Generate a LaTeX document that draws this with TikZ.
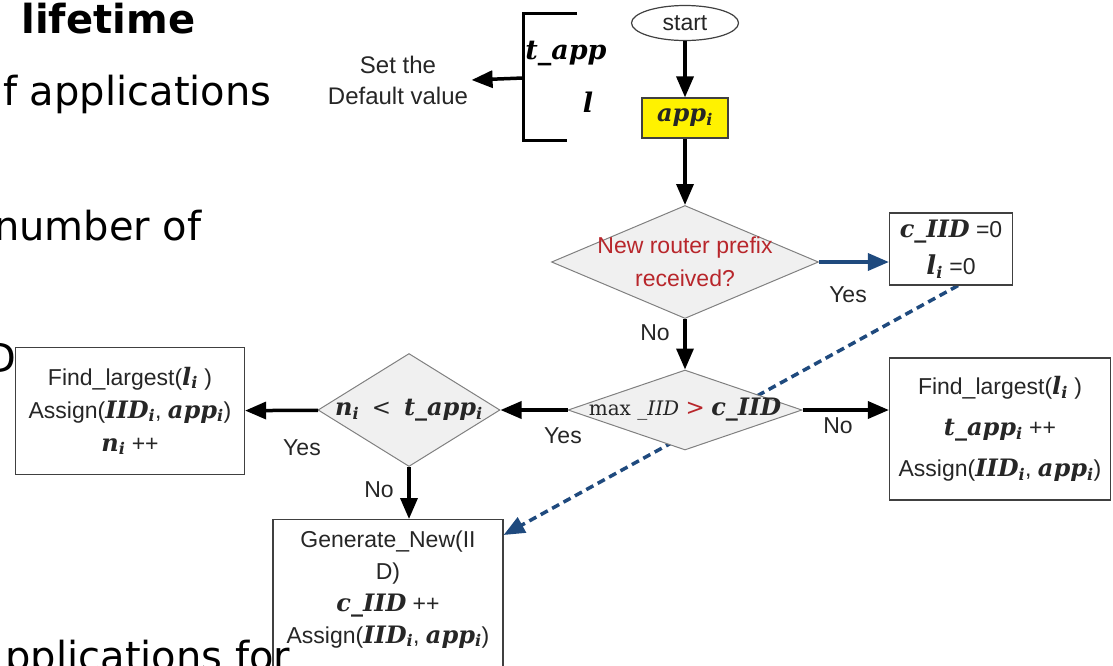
\documentclass[tikz,border=0pt]{standalone}
\usepackage{fontspec}
\setmainfont{Liberation Sans}
\newfontfamily\slidefont{DejaVu Sans}
\newfontfamily\varfont{DejaVu Serif}
\usetikzlibrary{shapes.geometric,arrows.meta,backgrounds}
\definecolor{askred}{HTML}{B8262B}
\definecolor{linkblue}{HTML}{1F4A7E}
\definecolor{decgray}{HTML}{F0F0F0}
\newcommand*{\bivar}[2][24]{{\varfont\bfseries\itshape\fontsize{#1}{30}\selectfont #2}}
\newcommand*{\isub}{\textsubscript{\varfont\bfseries\itshape i}}
\newcommand*{\flowfont}{\fontsize{23}{33}\selectfont}
\newcommand*{\slidetext}{\slidefont\fontsize{40}{48}\selectfont}
\tikzset{
  flowbox/.style = {draw = black!75, line width = 1.2pt, fill = white,
    align = center, inner sep = 0pt, font = \flowfont, text = black!85},
  decision/.style = {diamond, draw = black!50, line width = 1pt,
    fill = decgray, inner sep = 0pt},
  flowarrow/.style = {line width = 3.5pt, -{Triangle[length = 21pt, width = 17pt]}},
  yesno/.style = {font = \flowfont, text = black!85},
}

\begin{document}
\begin{tikzpicture}[x = 1pt, y = -1pt]
  \useasboundingbox (0,0) rectangle (1113,665);
  \clip (0,0) rectangle (1113,665);
  % slide text behind the chart
  \node[anchor = base west, font = \slidetext\bfseries] (ttl) at (18,33) {lifetime};
  \node[anchor = base east, font = \slidetext] (ln1) at (275,105) {f applications};
  \node[anchor = base east, font = \slidetext] (ln2) at (205,240) {number of};
  \node[anchor = base east, font = \slidetext] (ln3) at (20,372) {D};
  % default values
  \draw[line width = 3pt] (577,13) -| (523,140) -- (567,140);
  \coordinate (brk) at (523,78);
  \node[yesno, font = \fontsize{24}{31}\selectfont, align = center] (dflt) at (398,80)
    {Set the\\Default value};
  \node (tapp) at (566,53) {\bivar[27]{t\_app}};
  \node (lval) at (588,102) {\bivar[27]{l}};
  \draw[flowarrow] (brk) -- (dflt.east);
  % chart
  \node[ellipse, draw = black!75, line width = 1.2pt, minimum width = 107,
    minimum height = 35, inner sep = 0pt, yesno] (start) at (685,23) {start};
  \node[flowbox, fill = yellow, minimum width = 86, minimum height = 40]
    (app) at (685,118) {\bivar{app}\isub};
  \node[decision, minimum width = 267, minimum height = 113,
    label = {[yesno, align = center, text = askred]center:New router prefix\\received?}]
    (prefix) at (685,262) {};
  \node[flowbox, minimum width = 123, minimum height = 72] (cinit) at (951,249)
    {\bivar{c\_IID} =0\\[4pt] \bivar[26]{l}\isub{} =0};
  \node[decision, minimum width = 234, minimum height = 80,
    label = {[yesno]center:{\varfont\fontsize{20}{24}\selectfont max}
      {\varfont\itshape\fontsize{20}{24}\selectfont\_IID}
      {\varfont\color{askred}>} \bivar{c\_IID}}]
    (maxiid) at (685,410) {};
  \node[flowbox, minimum width = 221, minimum height = 142, font = \fontsize{23}{41}\selectfont]
    (grow) at (1000,429)
    {Find\_largest(\bivar{l}\isub{} )\\ \bivar{t\_app}\isub{} ++\\
     Assign(\bivar{IID}\isub, \bivar{app}\isub)};
  \node[decision, minimum width = 182, minimum height = 113,
    label = {[yesno]center:\bivar{n}\isub{}\ \ {\varfont <}\ \ \bivar{t\_app}\isub}]
    (napp) at (409,410) {};
  \node[flowbox, minimum width = 229, minimum height = 127] (reuse) at (130,411)
    {Find\_largest(\bivar{l}\isub{} )\\ Assign(\bivar{IID}\isub, \bivar{app}\isub)\\
     \bivar{n}\isub{} ++};
  \node[flowbox, minimum width = 230, minimum height = 180, anchor = north]
    (gen) at (388,519) {};
  \node[yesno, align = center, anchor = north, font = \fontsize{23}{32}\selectfont]
    (gentxt) at ([yshift = -8pt]gen.north)
    {Generate\_New(II\\D)\\ \bivar{c\_IID} ++\\ Assign(\bivar{IID}\isub, \bivar{app}\isub)};
  % connectors
  \draw[flowarrow] (start) -- (app);
  \draw[flowarrow] (app) -- (prefix);
  \draw[flowarrow, linkblue] (prefix.east) -- (prefix.east -| cinit.west);
  \draw[flowarrow] (prefix) -- (maxiid);
  \draw[flowarrow] (maxiid) -- (napp);
  \draw[flowarrow] (maxiid.east) -- (maxiid.east -| grow.west);
  \draw[flowarrow] (napp) -- (reuse);
  \draw[flowarrow] (napp.south) -- (napp.south |- gen.north);
  \begin{scope}[on background layer]
    \draw[linkblue, line width = 3.5pt, dash pattern = on 8pt off 5pt,
      -{Triangle[length = 21pt, width = 17pt]}]
      ([xshift = 7pt]cinit.south) -- ([yshift = -16pt]gen.north east);
  \end{scope}
  \node[yesno] (y1) at (848,295) {Yes};
  \node[yesno] (n1) at (655,333) {No};
  \node[yesno] (y2) at (563,436) {Yes};
  \node[yesno] (n2) at (838,426) {No};
  \node[yesno] (y3) at (302,448) {Yes};
  \node[yesno] (n3) at (379,490) {No};
  \node[anchor = base west, font = \slidetext] (ln4) at (2,670) {pplications for};
\end{tikzpicture}
\end{document}
